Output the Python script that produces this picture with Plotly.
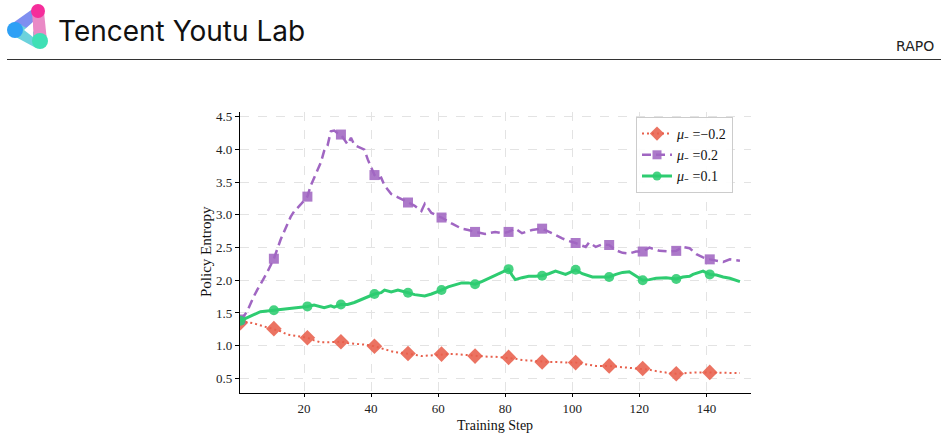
import plotly.graph_objects as go

# ---------------- data ----------------
steps_neg02 = [1, 3, 5, 7, 9, 11, 13, 15, 17, 19, 21, 23, 25, 27, 29, 31, 33, 35, 37, 39, 41, 43, 45, 47, 49,
               51, 53, 55, 57, 59, 61, 63, 65, 67, 69, 71, 73, 75, 77, 79, 81, 83, 85, 87, 89, 91, 93, 95, 97, 99,
               101, 103, 105, 107, 109, 111, 113, 115, 117, 119, 121, 123, 125, 127, 129, 131, 133, 135, 137, 139,
               141, 143, 145, 147, 150]
entropy_neg02 = [1.35, 1.36, 1.34, 1.31, 1.28, 1.26, 1.22, 1.17, 1.15, 1.14, 1.12, 1.08, 1.05, 1.05, 1.06, 1.06,
                 1.04, 1.03, 1.03, 1.01, 0.99, 0.96, 0.92, 0.90, 0.89, 0.88, 0.86, 0.84, 0.85, 0.86, 0.87, 0.87,
                 0.87, 0.86, 0.85, 0.84, 0.83, 0.83, 0.83, 0.82, 0.82, 0.80, 0.78, 0.77, 0.76, 0.75, 0.75, 0.75,
                 0.74, 0.74, 0.74, 0.72, 0.70, 0.69, 0.69, 0.69, 0.68, 0.67, 0.66, 0.66, 0.65, 0.63, 0.61, 0.59,
                 0.58, 0.57, 0.58, 0.58, 0.59, 0.59, 0.59, 0.59, 0.59, 0.59, 0.58]

steps_02 = [1, 2, 3, 4, 5, 6, 7, 8, 9, 10, 11, 13, 15, 16, 17, 18, 19, 20, 21, 22, 23, 24, 25, 26, 27, 28, 29,
            30, 31, 33, 34, 35, 37, 38, 39, 40, 41, 42, 43, 44, 46, 48, 51, 53, 55, 56, 58, 61, 64, 67, 69, 71,
            74, 77, 79, 81, 83, 85, 88, 91, 94, 97, 99, 101, 104, 105, 107, 109, 111, 113, 115, 117, 119, 121,
            123, 126, 129, 131, 133, 135, 137, 139, 141, 143, 145, 147, 150]
entropy_02 = [1.40, 1.45, 1.52, 1.65, 1.75, 1.85, 1.95, 2.03, 2.12, 2.22, 2.33, 2.62, 2.85, 2.97, 3.05, 3.10,
              3.16, 3.22, 3.28, 3.45, 3.57, 3.68, 3.80, 3.98, 4.06, 4.28, 4.29, 4.25, 4.23, 4.08, 4.18, 4.07,
              4.03, 4.00, 3.85, 3.72, 3.61, 3.55, 3.57, 3.45, 3.32, 3.27, 3.19, 3.14, 3.06, 3.17, 3.03, 2.96,
              2.87, 2.79, 2.77, 2.74, 2.71, 2.74, 2.72, 2.74, 2.79, 2.72, 2.77, 2.79, 2.72, 2.64, 2.60, 2.57,
              2.51, 2.58, 2.51, 2.55, 2.54, 2.46, 2.42, 2.41, 2.44, 2.44, 2.50, 2.45, 2.44, 2.45, 2.51, 2.49,
              2.40, 2.35, 2.32, 2.30, 2.28, 2.32, 2.30]

steps_01 = [1, 3, 5, 7, 9, 11, 13, 15, 17, 19, 21, 23, 25, 26, 28, 29, 31, 33, 35, 37, 39, 41, 43, 44, 46, 48,
            51, 53, 56, 58, 61, 63, 65, 67, 69, 71, 73, 75, 78, 81, 82, 83, 85, 87, 89, 91, 93, 95, 98, 101,
            103, 104, 106, 108, 111, 113, 115, 117, 119, 121, 123, 125, 128, 131, 133, 135, 136, 138, 139, 141,
            143, 145, 147, 150]
entropy_01 = [1.38, 1.43, 1.47, 1.52, 1.53, 1.54, 1.55, 1.57, 1.58, 1.59, 1.60, 1.62, 1.60, 1.58, 1.61, 1.59,
              1.63, 1.63, 1.66, 1.70, 1.75, 1.79, 1.81, 1.85, 1.82, 1.85, 1.81, 1.78, 1.76, 1.79, 1.85, 1.90,
              1.93, 1.96, 1.96, 1.94, 1.98, 2.03, 2.10, 2.17, 2.08, 2.01, 2.04, 2.06, 2.06, 2.07, 2.10, 2.14,
              2.09, 2.16, 2.10, 2.08, 2.05, 2.05, 2.05, 2.09, 2.12, 2.13, 2.07, 2.00, 2.01, 2.03, 2.04, 2.02,
              2.05, 2.06, 2.09, 2.13, 2.14, 2.09, 2.08, 2.05, 2.03, 1.98]

marker_steps = [1, 11, 21, 31, 41, 51, 61, 71, 81, 91, 101, 111, 121, 131, 141]
x_ticks = [20, 40, 60, 80, 100, 120, 140]
y_ticks = [0.5, 1.0, 1.5, 2.0, 2.5, 3.0, 3.5, 4.0, 4.5]
series_names = ["<i>μ</i>₋ =−0.2", "<i>μ</i>₋ =0.2", "<i>μ</i>₋ =0.1"]
header_title = "Tencent Youtu Lab"
header_tag = "RAPO"
x_title = "Training Step"
y_title = "Policy Entropy"

# ---------------- layout geometry ----------------
W, H = 948, 435
L, R, T, B = 240, 751, 112, 393  # plot area in pixels


def px(x):
    return (x - L) / (R - L)


def py(y):
    return (B - y) / (B - T)


SERIF = "Liberation Serif, Times New Roman, serif"

styles = [
    dict(color="#e8604c", dash="2px,3px", width=2, symbol="diamond", msize=12),
    dict(color="#a066c2", dash="9px,5px", width=2.5, symbol="square", msize=10),
    dict(color="#2ecc71", dash="solid", width=3, symbol="circle", msize=10),
]
datasets = [(steps_neg02, entropy_neg02), (steps_02, entropy_02), (steps_01, entropy_01)]

fig = go.Figure()
for (sx, sy), st, name in zip(datasets, styles, series_names):
    fig.add_trace(go.Scatter(x=sx, y=sy, mode="lines", showlegend=False,
                             line=dict(color=st["color"], dash=st["dash"], width=st["width"]),
                             hoverinfo="skip"))
    lookup = dict(zip(sx, sy))
    mx = [s for s in marker_steps if s in lookup]
    my = [lookup[s] for s in mx]
    fig.add_trace(go.Scatter(x=mx, y=my, mode="markers", showlegend=False,
                             marker=dict(symbol=st["symbol"], size=st["msize"], color=st["color"],
                                         opacity=0.88, line=dict(width=0))))
    fig.add_trace(go.Scatter(x=[None], y=[None], mode="lines+markers", name=name,
                             line=dict(color=st["color"], dash=st["dash"], width=st["width"]),
                             marker=dict(symbol=st["symbol"], size=st["msize"] - 1, color=st["color"],
                                         opacity=0.88, line=dict(width=0))))

# ---------------- header decorations ----------------
shapes = []
shapes.append(dict(type="line", xref="paper", yref="paper", x0=px(7), x1=px(941), y0=py(59.5), y1=py(59.5),
                   line=dict(color="#333333", width=1.2), layer="above"))
shapes.append(dict(type="path", xref="paper", yref="paper",
                   path=f"M {px(10)} {py(25)} L {px(34)} {py(8)} L {px(42)} {py(16)} L {px(19)} {py(36)} Z",
                   fillcolor="#7f8ff0", line=dict(width=0)))
shapes.append(dict(type="path", xref="paper", yref="paper",
                   path=f"M {px(12)} {py(35)} L {px(36)} {py(48)} L {px(44)} {py(37)} L {px(19)} {py(24)} Z",
                   fillcolor="#6cd2dc", line=dict(width=0)))
shapes.append(dict(type="path", xref="paper", yref="paper",
                   path=f"M {px(32)} {py(12)} L {px(44)} {py(12)} L {px(47)} {py(41)} L {px(34)} {py(41)} Z",
                   fillcolor="#ea8ac6", line=dict(width=0)))
for cx, cy, r, col in [(38, 11, 7, "#f52d9b"), (15, 30, 8, "#2ea0f5"), (40, 41, 8, "#3fe0b5")]:
    shapes.append(dict(type="circle", xref="paper", yref="paper", x0=px(cx - r), x1=px(cx + r),
                       y0=py(cy + r), y1=py(cy - r), fillcolor=col, line=dict(width=0)))
shapes.append(dict(type="path", xref="paper", yref="paper",
                   path=f"M {px(24)} {py(30)} L {px(33)} {py(22)} L {px(33)} {py(37)} Z",
                   fillcolor="white", line=dict(width=0)))

annotations = [
    dict(text=header_title, xref="paper", yref="paper", x=px(56), y=py(31), xanchor="left", yanchor="middle",
         showarrow=False, font=dict(family="Inter, Lato, sans-serif", size=28, color="#111111")),
    dict(text=header_tag, xref="paper", yref="paper", x=px(936), y=py(46), xanchor="right", yanchor="middle",
         showarrow=False, font=dict(family="DejaVu Sans, sans-serif", size=14, color="#222222")),
    dict(text=x_title, xref="paper", yref="paper", x=px(495), y=py(425), xanchor="center", yanchor="middle",
         showarrow=False, font=dict(family=SERIF, size=14, color="#111111")),
    dict(text=y_title, xref="paper", yref="paper", x=px(206), y=py(252), xanchor="center", yanchor="middle",
         textangle=-90, showarrow=False, font=dict(family=SERIF, size=15, color="#111111")),
]

fig.update_layout(
    width=W, height=H,
    margin=dict(l=L, r=W - R, t=T, b=H - B, pad=0, autoexpand=False),
    paper_bgcolor="white", plot_bgcolor="white",
    font=dict(family=SERIF, size=12, color="#222222"),
    shapes=shapes, annotations=annotations,
    legend=dict(x=px(636), y=py(117), xanchor="left", yanchor="top",
                bgcolor="rgba(255,255,255,0.9)", bordercolor="#cccccc", borderwidth=1,
                font=dict(family=SERIF, size=14, color="#111111"),
                tracegroupgap=0, itemwidth=30),
    showlegend=True,
)
fig.update_xaxes(range=[0.9, 153.3], tickvals=x_ticks, showline=True, linecolor="black", linewidth=1.2,
                 ticks="outside", ticklen=3, tickcolor="black", showgrid=True, gridcolor="#e3e3e3",
                 griddash="dash", gridwidth=1, zeroline=False, mirror=False, automargin=False,
                 tickfont=dict(family=SERIF, size=13, color="#222222"))
fig.update_yaxes(range=[0.275, 4.575], tickvals=y_ticks, ticktext=[f"{v:.1f}" for v in y_ticks],
                 showline=True, linecolor="black", linewidth=1.2,
                 ticks="outside", ticklen=4, tickcolor="black", showgrid=True, gridcolor="#e3e3e3",
                 griddash="dash", gridwidth=1, zeroline=False, mirror=False, automargin=False,
                 tickfont=dict(family=SERIF, size=13, color="#222222"))

fig.write_html("out.html")
